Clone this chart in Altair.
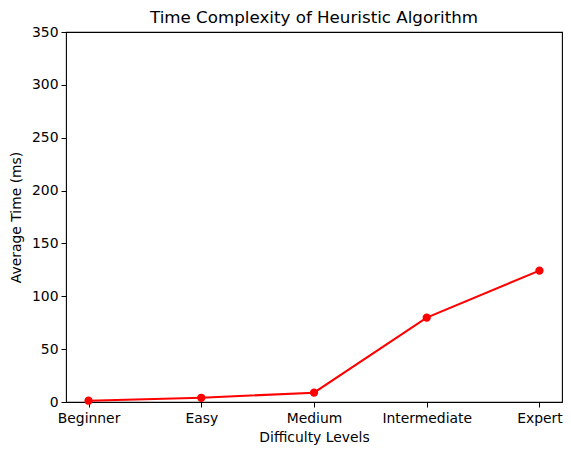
import altair as alt
import pandas as pd

levels = ["Beginner", "Easy", "Medium", "Intermediate", "Expert"]
avg_time = [1.2, 4.0, 8.8, 79.8, 124.3]

df = pd.DataFrame({"level": levels, "time": avg_time})

font = "DejaVu Sans"

base = alt.Chart(df).encode(
    x=alt.X("level:N", sort=levels,
            scale=alt.Scale(type="point", padding=0.2),
            axis=alt.Axis(title="Difficulty Levels", labelAngle=0, grid=False,
                          domain=False, tickColor="black", tickSize=5,
                          labelColor="black", labelFontSize=13.9, labelFont=font,
                          labelPadding=4, titleFont=font, titleFontSize=13.9,
                          titleFontWeight="normal", titleColor="black", titlePadding=6)),
    y=alt.Y("time:Q",
            scale=alt.Scale(domain=[0, 350], nice=False, zero=True),
            axis=alt.Axis(title="Average Time (ms)", values=list(range(0, 351, 50)),
                          grid=False, domain=False, tickColor="black", tickSize=5,
                          labelColor="black", labelFontSize=13.9, labelFont=font,
                          labelPadding=3, titleFont=font, titleFontSize=13.9,
                          titleFontWeight="normal", titleColor="black", titlePadding=8)),
)

line = base.mark_line(color="#ff0000", strokeWidth=2.08)
points = base.mark_point(color="#ff0000", filled=True, opacity=1, size=68, shape="circle")

chart = (line + points).properties(
    width=496, height=370,
    title=alt.Title("Time Complexity of Heuristic Algorithm", font=font,
                    fontSize=16.7, fontWeight="normal", color="black", offset=-2),
    autosize=alt.AutoSizeParams(type="none"),
    padding={"left": 58, "top": 24, "right": 1, "bottom": 45},
).configure_view(stroke="black", strokeWidth=1.1)

chart.save("out.html", embed_options={"renderer": "svg", "actions": False})
